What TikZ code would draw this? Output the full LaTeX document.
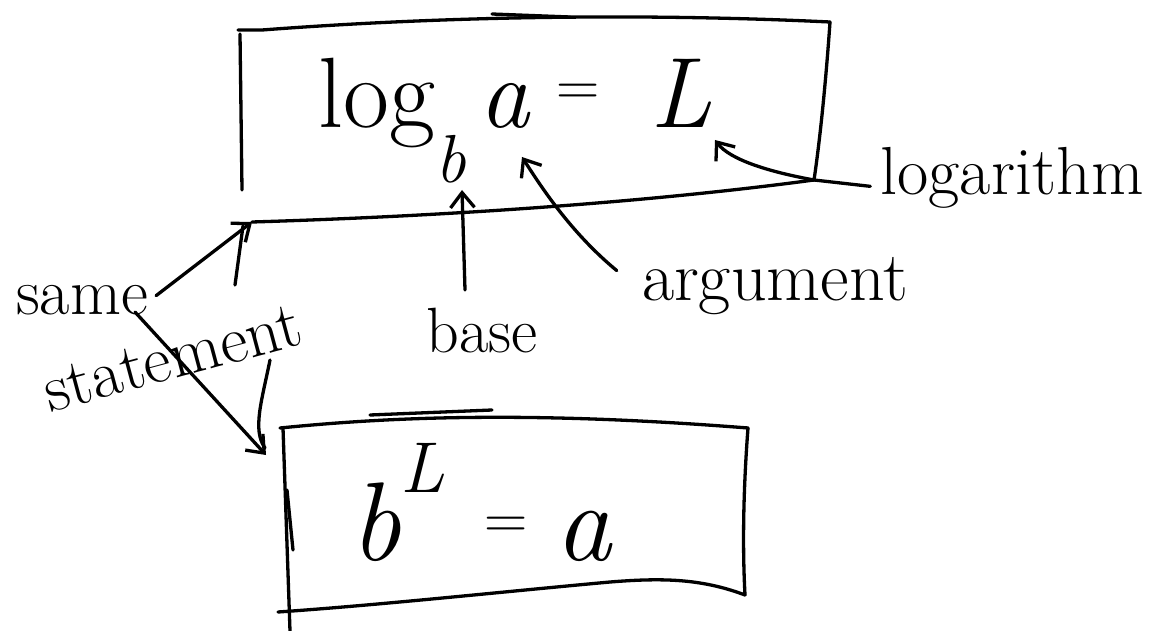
\documentclass[tikz,border=0pt]{standalone}
\usetikzlibrary{arrows.meta,calc}
\begin{document}
\begin{tikzpicture}[x=1pt,y=-1pt,
  pen/.style={line width=3.3pt,line cap=round,line join=round,black},
  arr/.style={pen,-{Straight Barb[length=15pt,width=24pt,line width=3.3pt]}},
  lbl/.style={inner sep=0pt,anchor=base,font=\fontsize{66}{70}\selectfont},
  formula/.style={inner sep=0pt,anchor=base west}]
\useasboundingbox (0,0) rectangle (1175,631);
% ---------- top box ----------
\draw[pen] (238,30) -- (262,30) .. controls (420,18) and (620,12) .. (830,22);
\draw[pen] (492,14) -- (570,17);
\draw[pen] (830,22) .. controls (826,80) and (820,140) .. (814,180);
\draw[pen] (240,34) -- (242,190);
\coordinate (tbl) at (252,222);
\coordinate (tbr) at (814,180);
\draw[pen] (tbl) .. controls (450,216) and (650,202) .. (tbr);
\node[formula,font=\fontsize{100}{110}\selectfont] (logf) at (318,128)
  {log\raisebox{-55pt}{\fontsize{68}{70}\selectfont\itshape b}\hspace{14pt}\textit{a}\hspace{26pt}\raisebox{22pt}{\fontsize{60}{60}\selectfont =}\hspace{50pt}\textit{L}};
% ---------- bottom box ----------
\draw[pen] (280,428) .. controls (380,418) and (520,410) .. (748,428);
\draw[pen] (370,415) -- (492,410);
\draw[pen] (748,428) .. controls (744,480) and (742,540) .. (745,595);
\draw[pen] (745,595) .. controls (700,578) and (660,578) .. (610,582) .. controls (500,592) and (380,605) .. (278,612);
\draw[pen] (283,428) -- (290,631);
\draw[pen] (287,490) -- (293,550);
\coordinate (bbl) at (266,455);
\node[formula,font=\fontsize{112}{120}\selectfont] (expf) at (350,560)
  {\textit{b}\raisebox{68pt}{\fontsize{72}{75}\selectfont\itshape L}\hspace{40pt}\raisebox{22pt}{\fontsize{60}{60}\selectfont =}\hspace{28pt}\textit{a}};
% ---------- labels ----------
\node[lbl,font=\fontsize{68}{70}\selectfont] (logl) at (1012,195) {logarithm};
\node[lbl,font=\fontsize{70}{70}\selectfont] (argl) at (775,300) {argument};
\node[lbl,font=\fontsize{64}{70}\selectfont] (basel) at (482,352) {base};
\node[lbl] (samel) at (82,314) {same};
\node[lbl,font=\fontsize{67}{70}\selectfont,rotate=15] (statl) at (178,378) {statement};
% ---------- target points ----------
\coordinate (bsub) at (462,190);
\coordinate (aarg) at (522,157);
\coordinate (Lt) at (715,140);
% ---------- connectors ----------
\draw[arr] (465,290) coordinate (bs) -- (bsub);
\draw[arr] ($(argl.west)+(-25,-15)$) .. controls (570,232) and (540,185) .. (aarg);
\draw[pen] (tbr) -- ($(logl.west)+(-10,8)$);
\draw[arr] (tbr) .. controls (770,172) and (730,160) .. (Lt);
\draw[arr] ($(samel.east)+(8,-4)$) -- (tbl);
\draw[pen] (235,285) -- (243,226);
\draw[arr] (135,312) -- (bbl);
\draw[pen] (270,360) .. controls (262,400) and (252,430) .. (265,448);
\end{tikzpicture}
\end{document}
